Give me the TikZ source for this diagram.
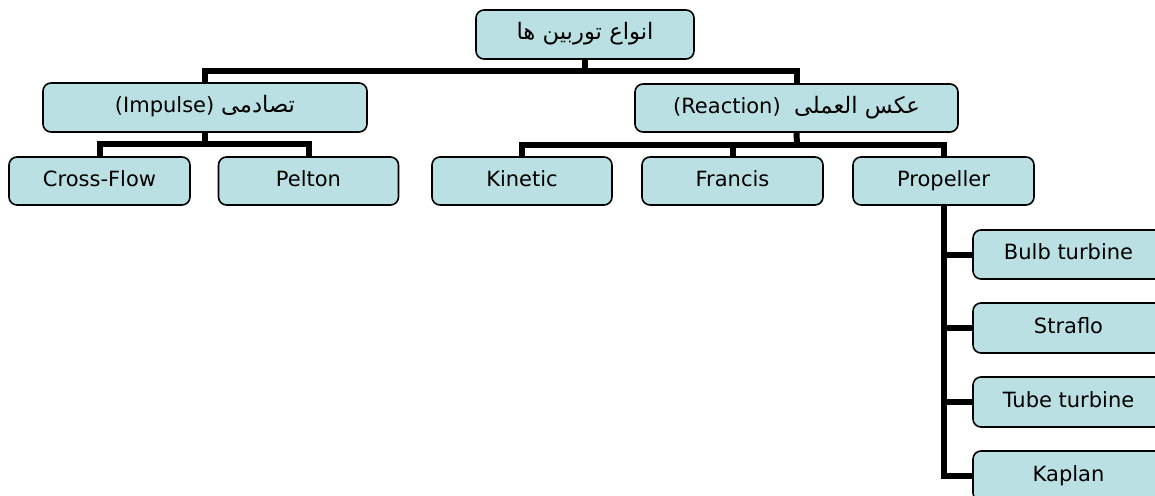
\documentclass[tikz,border=0pt]{standalone}
\usepackage{fontspec}
\setmainfont{DejaVu Sans}
\newfontfamily\arabicfont[Script=Arabic,Scale=1.08]{DejaVu Sans}
\TeXXeTstate=1
\definecolor{boxfill}{RGB}{187,224,227}
\tikzset{
  tbox/.style={draw=black, line width=1.6pt, fill=boxfill, rounded corners=8pt,
    minimum height=48pt, inner sep=0pt, text height=15.3pt, text depth=5.3pt,
    font=\fontsize{21}{25}\selectfont},
  conn/.style={draw=black, line width=6pt}
}
\begin{document}
\begin{tikzpicture}[x=1pt,y=-1pt]
\useasboundingbox (0,0) rectangle (1155,495);
\begin{scope}
\clip (0,0) rectangle (1155,495);
\coordinate (j1) at (585,71);
\coordinate (j2) at (205,144);
\coordinate (j3) at (797,145);
% boxes
\node[tbox, minimum width=218pt, minimum height=49pt] (root) at (585,34.5)
  {\arabicfont\beginR انواع توربین ها\endR};
\node[tbox, minimum width=324pt, minimum height=49pt] (imp) at (205,107.5)
  {(Impulse) {\arabicfont\beginR تصادمی\endR}};
\node[tbox, minimum width=323pt] (rea) at (796.5,108)
  {(Reaction)\ \ {\arabicfont\beginR عکس العملی\endR}};
\node[tbox, minimum width=181pt] (cf) at (99.5,181) {Cross-Flow};
\node[tbox, minimum width=180pt] (pel) at (308.5,181) {Pelton};
\node[tbox, minimum width=180pt] (kin) at (522,181) {Kinetic};
\node[tbox, minimum width=181pt] (fra) at (732.5,181) {Francis};
\node[tbox, minimum width=181pt] (pro) at (943.5,181) {Propeller};
\node[tbox, minimum width=191pt, minimum height=49pt] (bulb) at (1068.5,254.5) {Bulb turbine};
\node[tbox, minimum width=191pt, minimum height=50pt] (stra) at (1068.5,328) {Straflo};
\node[tbox, minimum width=191pt, minimum height=50pt] (tube) at (1068.5,402) {Tube turbine};
\node[tbox, minimum width=191pt, minimum height=50pt] (kap) at (1068.5,476) {Kaplan};
% connectors
\draw[conn] (root.south) -- (j1);
\draw[conn] (imp.north) |- (j1) -| (rea.north);
\draw[conn] (imp.south) -- (j2);
\draw[conn] (cf.north) |- (j2) -| (pel.north);
\draw[conn] (rea.south) -- (j3);
\draw[conn] (kin.north) |- (j3) -| (pro.north);
\draw[conn] (fra.north) -- (fra.north |- j3);
\draw[conn] (pro.south) |- (kap.west);
\draw[conn] (pro.south |- bulb.west) -- (bulb.west);
\draw[conn] (pro.south |- stra.west) -- (stra.west);
\draw[conn] (pro.south |- tube.west) -- (tube.west);
\end{scope}
\end{tikzpicture}
\end{document}
